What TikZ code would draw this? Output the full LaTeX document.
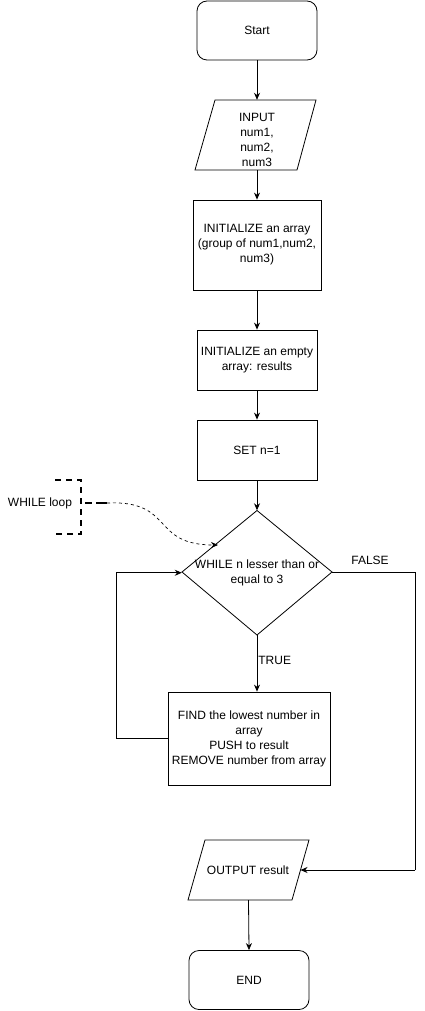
\documentclass[tikz,border=0pt]{standalone}
\usepackage{fontspec}
\setmainfont{Liberation Sans}
\usetikzlibrary{arrows.meta}

\begin{document}
\begin{tikzpicture}[x=1pt,y=-1pt,
  every node/.style={font=\fontsize{12}{15}\selectfont, align=center, inner sep=0pt},
  shapeline/.style={draw=black, line width=0.8pt},
  term/.style={shapeline, rectangle, rounded corners=10pt, minimum width=120pt, minimum height=59pt},
  proc/.style={shapeline, rectangle},
  ghost/.style={rectangle, draw=none},
  flow/.style={draw=black, line width=0.8pt, -{Stealth[length=7pt,width=6pt]}},
  plain/.style={draw=black, line width=0.8pt},
  note/.style={draw=black, line width=1.8pt, dash pattern=on 6pt off 5pt},
  hint/.style={draw=black, line width=0.7pt, dash pattern=on 3pt off 3pt, -{Stealth[length=7pt,width=6pt]}},
  lbl/.style={font=\fontsize{12}{14}\selectfont}
]
\useasboundingbox[fill=white] (0,0) rectangle (425,1011);

% Start
\node[term] (start) at (257,30.5) {Start};

% Input parallelogram
\draw[shapeline] (215,100) -- (316,100) -- (297,170) -- (195,170) -- cycle;
\node[ghost, minimum width=121pt, minimum height=70pt] (in) at (257,135) {};
\node at (257,140) {INPUT\\num1,\\num2,\\num3};

% Initialisation steps
\node[proc, minimum width=128pt, minimum height=90pt] (init) at (257,245) {INITIALIZE an array\\(group of num1,num2,\\num3)};
\node[proc, minimum width=120pt, minimum height=60pt] (empty) at (257,360) {INITIALIZE an empty\\array: results};
\node[proc, minimum width=120pt, minimum height=60pt] (setn) at (257,450) {SET n=1};

% Decision diamond
\coordinate (dT) at (257,510.5);
\coordinate (dL) at (182,572);
\coordinate (dR) at (332,572);
\coordinate (dB) at (257,635);
\draw[shapeline] (dT) -- (dR) -- (dB) -- (dL) -- cycle;
\node[ghost, minimum width=150pt, minimum height=124.5pt] (cond) at (257,572.75) {};
\node at (257,573) {WHILE n lesser than or\\equal to 3};
\coordinate (hit) at (218,545);

% Loop body
\node[proc, minimum width=162pt, minimum height=93pt] (body) at (249,738.5) {FIND the lowest number in\\array\\PUSH to result\\REMOVE number from array};

% Output parallelogram
\draw[shapeline] (205,840) -- (309,840) -- (292,900) -- (188,900) -- cycle;
\node[ghost, minimum width=121pt, minimum height=60pt] (out) at (248.5,870) {};
\node at (248,870) {OUTPUT result};
\coordinate (outR) at (300.5,870);

% End
\node[term] (end) at (249,980) {END};

% Main flow
\draw[flow] (start.south) -- (in.north);
\draw[flow] (in.south) -- (init.north);
\draw[flow] (init.south) -- (empty.north);
\draw[flow] (empty.south) -- (setn.north);
\draw[flow] (setn.south) -- (cond.north);
\draw[flow] (cond.south) -- node[lbl, right=1pt, pos=0.45] {TRUE} (body.north -| cond.south);
\draw[flow] (body.west) -- ++(-51,0) |- (cond.west);
\draw[plain] (cond.east) -- ++(83,0) coordinate (fc) -- (fc |- outR);
\node[lbl] at (370,560) {FALSE};
\draw[flow] (fc |- outR) -- (outR);
\draw[flow] (out.south) -- (end.north);

% Annotation bracket with its stub
\coordinate (bTL) at (55,480);
\coordinate (bTR) at (81,480);
\coordinate (bBR) at (81,534);
\coordinate (bBL) at (55,534);
\coordinate (bM) at (81,503);
\coordinate (bS) at (107,503);
\draw[note] (bTL) -- (bTR) -- (bBR) -- (bBL);
\draw[note, dash pattern=on 0pt off 4pt on 7pt off 4pt on 7pt] (bM) -- (bS);
\node (wl) at (40,503) {WHILE loop};
\draw[hint] (bS) .. controls (175,500) and (150,545) .. (hit);
\end{tikzpicture}
\end{document}
